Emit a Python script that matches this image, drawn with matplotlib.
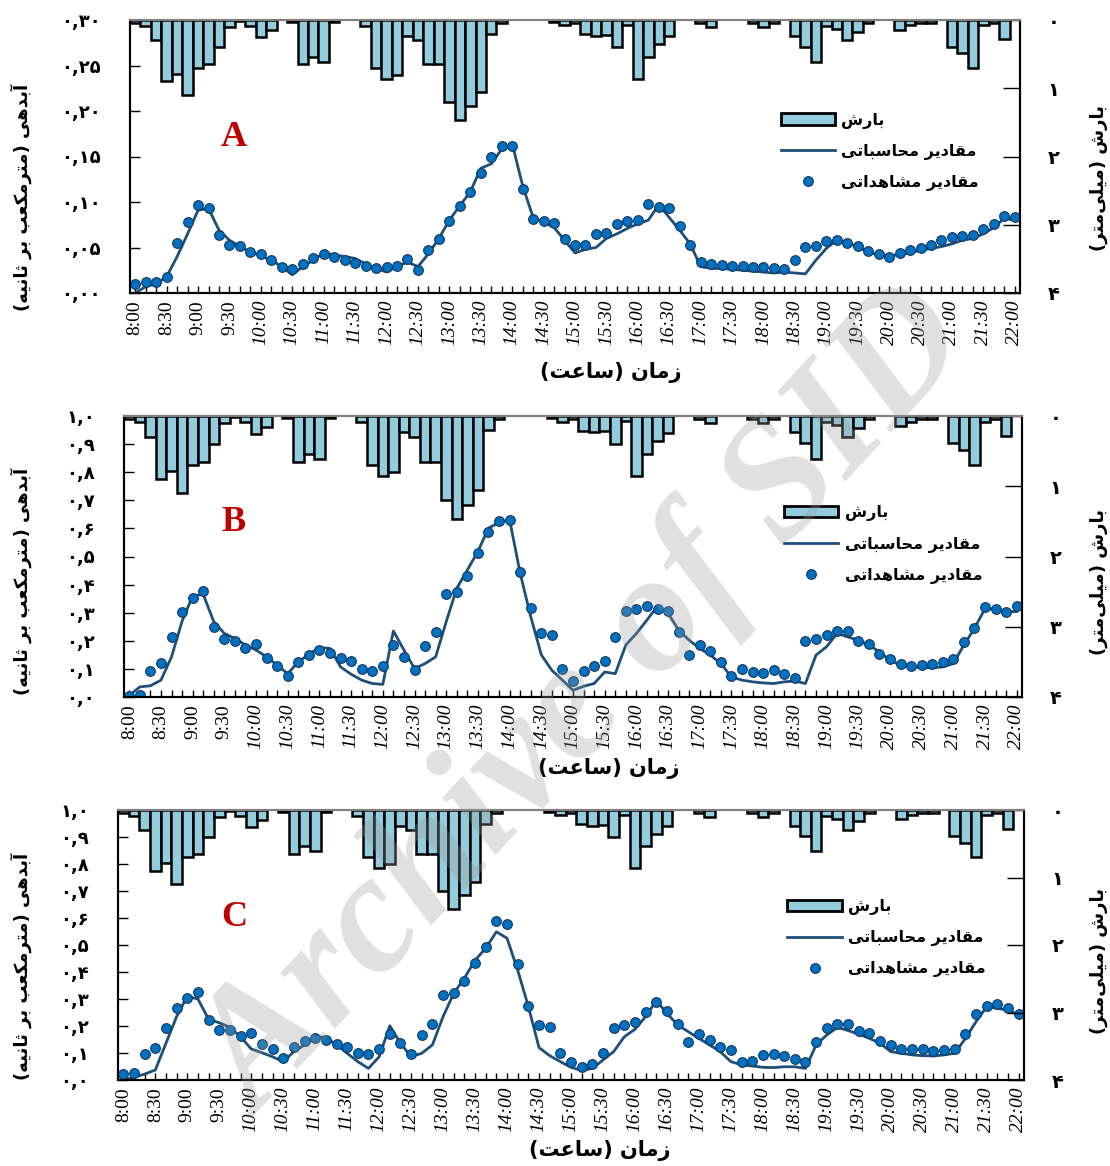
import numpy as np
import matplotlib.pyplot as plt
from matplotlib.patches import Patch
from matplotlib.lines import Line2D

# ---- data: 10-minute steps from 8:00 to 22:00 ----
steps = np.arange(85)

time_labels = ['8:00', '8:30', '9:00', '9:30', '10:00', '10:30', '11:00', '11:30',
               '12:00', '12:30', '13:00', '13:30', '14:00', '14:30', '15:00', '15:30',
               '16:00', '16:30', '17:00', '17:30', '18:00', '18:30', '19:00', '19:30',
               '20:00', '20:30', '21:00', '21:30', '22:00']

# rainfall (mm), same storm for all three panels
rain = np.array([
    0.04, 0.09, 0.30, 0.90, 0.79, 1.10, 0.70, 0.65, 0.40, 0.10,
    0.02, 0.09, 0.25, 0.15, 0.00, 0.03, 0.65, 0.54, 0.61, 0.03,
    0.00, 0.00, 0.09, 0.70, 0.86, 0.80, 0.23, 0.30, 0.65, 0.65,
    1.20, 1.46, 1.26, 1.06, 0.20, 0.04, 0.00, 0.00, 0.00, 0.00,
    0.03, 0.08, 0.04, 0.21, 0.23, 0.22, 0.40, 0.07, 0.86, 0.54,
    0.35, 0.24, 0.00, 0.00, 0.04, 0.10, 0.00, 0.00, 0.00, 0.04,
    0.10, 0.04, 0.00, 0.23, 0.39, 0.61, 0.09, 0.13, 0.30, 0.17,
    0.04, 0.00, 0.00, 0.14, 0.08, 0.04, 0.04, 0.00, 0.39, 0.49,
    0.70, 0.08, 0.04, 0.28, 0.00])

# panel A discharge (m3/s)
obs_a = np.array([
    0.010, 0.012, 0.012, 0.018, 0.055, 0.078, 0.097, 0.093, 0.064, 0.053,
    0.052, 0.045, 0.043, 0.036, 0.029, 0.026, 0.032, 0.039, 0.043, 0.040,
    0.036, 0.033, 0.030, 0.027, 0.029, 0.030, 0.037, 0.025, 0.047, 0.059,
    0.079, 0.096, 0.111, 0.132, 0.150, 0.161, 0.162, 0.114, 0.081, 0.079,
    0.077, 0.059, 0.053, 0.053, 0.065, 0.066, 0.076, 0.079, 0.080, 0.098,
    0.095, 0.093, 0.074, 0.053, 0.034, 0.032, 0.031, 0.030, 0.030, 0.029,
    0.029, 0.027, 0.026, 0.036, 0.051, 0.052, 0.057, 0.058, 0.055, 0.052,
    0.046, 0.043, 0.040, 0.044, 0.047, 0.050, 0.053, 0.058, 0.061, 0.063,
    0.064, 0.070, 0.076, 0.085, 0.083])
calc_a = np.array([
    0.000, 0.007, 0.010, 0.018, 0.040, 0.065, 0.091, 0.093, 0.069, 0.058,
    0.051, 0.045, 0.041, 0.036, 0.029, 0.020, 0.029, 0.036, 0.044, 0.042,
    0.040, 0.038, 0.032, 0.027, 0.023, 0.029, 0.034, 0.029, 0.043, 0.060,
    0.080, 0.096, 0.111, 0.137, 0.142, 0.158, 0.164, 0.118, 0.083, 0.078,
    0.072, 0.058, 0.044, 0.048, 0.050, 0.060, 0.065, 0.071, 0.076, 0.080,
    0.097, 0.083, 0.069, 0.054, 0.029, 0.027, 0.027, 0.026, 0.025, 0.024,
    0.023, 0.022, 0.023, 0.022, 0.021, 0.036, 0.049, 0.058, 0.055, 0.051,
    0.045, 0.042, 0.041, 0.042, 0.044, 0.047, 0.049, 0.051, 0.054, 0.058,
    0.060, 0.065, 0.072, 0.082, 0.080])

# panel B
obs_b = np.array([
    0.002, 0.007, 0.094, 0.120, 0.213, 0.302, 0.351, 0.379, 0.249, 0.206,
    0.201, 0.174, 0.187, 0.140, 0.112, 0.076, 0.124, 0.150, 0.167, 0.155,
    0.140, 0.129, 0.099, 0.094, 0.112, 0.185, 0.144, 0.096, 0.182, 0.233,
    0.365, 0.373, 0.432, 0.513, 0.587, 0.626, 0.631, 0.444, 0.315, 0.226,
    0.219, 0.098, 0.057, 0.092, 0.111, 0.127, 0.214, 0.307, 0.312, 0.325,
    0.314, 0.306, 0.232, 0.151, 0.185, 0.164, 0.126, 0.076, 0.098, 0.089,
    0.087, 0.095, 0.083, 0.068, 0.200, 0.206, 0.220, 0.235, 0.235, 0.200,
    0.188, 0.152, 0.137, 0.117, 0.111, 0.115, 0.117, 0.125, 0.137, 0.194,
    0.244, 0.319, 0.313, 0.302, 0.324])
calc_b = np.array([
    0.005, 0.036, 0.040, 0.060, 0.143, 0.270, 0.360, 0.365, 0.268, 0.226,
    0.208, 0.185, 0.167, 0.143, 0.113, 0.083, 0.125, 0.152, 0.176, 0.173,
    0.107, 0.081, 0.060, 0.048, 0.045, 0.235, 0.167, 0.101, 0.119, 0.143,
    0.268, 0.387, 0.452, 0.518, 0.601, 0.621, 0.631, 0.440, 0.286, 0.150,
    0.095, 0.060, 0.024, 0.038, 0.048, 0.089, 0.083, 0.185, 0.226, 0.274,
    0.324, 0.298, 0.238, 0.202, 0.173, 0.149, 0.119, 0.071, 0.060, 0.054,
    0.050, 0.048, 0.054, 0.057, 0.048, 0.149, 0.179, 0.226, 0.214, 0.202,
    0.185, 0.161, 0.131, 0.113, 0.107, 0.105, 0.104, 0.107, 0.119, 0.185,
    0.244, 0.315, 0.312, 0.304, 0.304])

# panel C
obs_c = np.array([
    0.021, 0.026, 0.098, 0.117, 0.193, 0.265, 0.302, 0.325, 0.221, 0.186,
    0.184, 0.163, 0.173, 0.133, 0.114, 0.083, 0.122, 0.143, 0.156, 0.147,
    0.133, 0.123, 0.100, 0.098, 0.114, 0.170, 0.137, 0.098, 0.168, 0.207,
    0.314, 0.321, 0.368, 0.432, 0.491, 0.590, 0.578, 0.430, 0.273, 0.202,
    0.198, 0.099, 0.068, 0.049, 0.058, 0.099, 0.194, 0.204, 0.216, 0.253,
    0.290, 0.257, 0.207, 0.142, 0.169, 0.148, 0.123, 0.111, 0.068, 0.072,
    0.091, 0.095, 0.089, 0.077, 0.068, 0.141, 0.194, 0.209, 0.207, 0.183,
    0.173, 0.146, 0.131, 0.116, 0.114, 0.115, 0.109, 0.111, 0.115, 0.170,
    0.244, 0.275, 0.283, 0.265, 0.244])
calc_c = np.array([
    0.000, 0.010, 0.022, 0.037, 0.136, 0.235, 0.310, 0.300, 0.225, 0.212,
    0.195, 0.160, 0.115, 0.101, 0.086, 0.068, 0.105, 0.130, 0.160, 0.158,
    0.130, 0.099, 0.068, 0.043, 0.086, 0.201, 0.136, 0.086, 0.099, 0.130,
    0.235, 0.321, 0.377, 0.444, 0.488, 0.549, 0.525, 0.407, 0.272, 0.120,
    0.090, 0.068, 0.047, 0.035, 0.043, 0.074, 0.105, 0.160, 0.188, 0.235,
    0.294, 0.247, 0.204, 0.179, 0.154, 0.130, 0.105, 0.068, 0.056, 0.052,
    0.047, 0.046, 0.049, 0.049, 0.043, 0.130, 0.167, 0.195, 0.183, 0.170,
    0.154, 0.136, 0.105, 0.099, 0.093, 0.090, 0.089, 0.093, 0.099, 0.154,
    0.216, 0.272, 0.265, 0.259, 0.241])

yticks_a = [0, 0.05, 0.10, 0.15, 0.20, 0.25, 0.30]
ylabels_a = ['۰,۰۰', '۰,۰۵', '۰,۱۰', '۰,۱۵', '۰,۲۰', '۰,۲۵', '۰,۳۰']
yticks_bc = [0, 0.1, 0.2, 0.3, 0.4, 0.5, 0.6, 0.7, 0.8, 0.9, 1.0]
ylabels_bc = ['۰,۰', '۰,۱', '۰,۲', '۰,۳', '۰,۴', '۰,۵', '۰,۶', '۰,۷', '۰,۸', '۰,۹', '۱,۰']
rain_ticks = [0, 1, 2, 3, 4]
rain_labels = ['۰', '۱', '۲', '۳', '۴']

label_q = 'آبدهی (مترمکعب بر ثانیه)'
label_p = 'بارش (میلی\u200cمتر)'
label_t = 'زمان (ساعت)'
leg_rain = 'بارش'
leg_calc = 'مقادیر محاسباتی'
leg_obs = 'مقادیر مشاهداتی'

# ---- minimal Persian shaping (matplotlib has no bidi / joining) ----
FORMS = {
    'ا': ('\uFE8D', '\uFE8E', None, None), 'آ': ('\uFE81', '\uFE82', None, None),
    'د': ('\uFEA9', '\uFEAA', None, None), 'ر': ('\uFEAD', '\uFEAE', None, None),
    'ز': ('\uFEAF', '\uFEB0', None, None),
    'ب': ('\uFE8F', '\uFE90', '\uFE91', '\uFE92'), 'ت': ('\uFE95', '\uFE96', '\uFE97', '\uFE98'),
    'ث': ('\uFE99', '\uFE9A', '\uFE9B', '\uFE9C'), 'ح': ('\uFEA1', '\uFEA2', '\uFEA3', '\uFEA4'),
    'س': ('\uFEB1', '\uFEB2', '\uFEB3', '\uFEB4'), 'ش': ('\uFEB5', '\uFEB6', '\uFEB7', '\uFEB8'),
    'ع': ('\uFEC9', '\uFECA', '\uFECB', '\uFECC'), 'ق': ('\uFED5', '\uFED6', '\uFED7', '\uFED8'),
    'ک': ('\uFB8E', '\uFB8F', '\uFB90', '\uFB91'), 'ل': ('\uFEDD', '\uFEDE', '\uFEDF', '\uFEE0'),
    'م': ('\uFEE1', '\uFEE2', '\uFEE3', '\uFEE4'), 'ن': ('\uFEE5', '\uFEE6', '\uFEE7', '\uFEE8'),
    'ه': ('\uFEE9', '\uFEEA', '\uFEEB', '\uFEEC'), 'ی': ('\uFBFC', '\uFBFD', '\uFBFE', '\uFBFF'),
}


def fa(text):
    out = []
    for i, c in enumerate(text):
        if c == '\u200c':
            continue
        if c not in FORMS:
            out.append(c)
            continue
        prev = text[i - 1] if i > 0 else ''
        nxt = text[i + 1] if i + 1 < len(text) else ''
        join_prev = prev in FORMS and FORMS[prev][2] is not None
        join_next = nxt in FORMS and FORMS[c][2] is not None
        iso, fin, ini, med = FORMS[c]
        if join_prev and join_next:
            out.append(med)
        elif join_prev:
            out.append(fin)
        elif join_next:
            out.append(ini)
        else:
            out.append(iso)
    return ''.join(reversed(out)).translate(str.maketrans('()', ')('))


FA = ['DejaVu Sans']
bar_color = '#93CDDD'
dot_color = '#0070C0'
line_color = '#1F4E79'

W, H = 1110, 1166
fig = plt.figure(figsize=(W / 100, H / 100), dpi=100)


def rect(l, t, r, b):
    return [l / W, 1 - b / H, (r - l) / W, (b - t) / H]


# box in pixels (left, top, right, bottom); label x positions in pixels
panels = [
    dict(box=(130, 20, 1020, 293), obs=obs_a, calc=calc_a, ymax=0.30,
         yt=yticks_a, yl=ylabels_a, letter='A', lxy=(0.116, 0.57),
         leg=(0.722, 0.69), qy=0.35, py=0.42, txy=(0.54, -0.29)),
    dict(box=(124, 416, 1022, 697), obs=obs_b, calc=calc_b, ymax=1.0,
         yt=yticks_bc, yl=ylabels_bc, letter='B', lxy=(0.122, 0.62),
         leg=(0.726, 0.71), qy=0.41, py=0.41, txy=(0.54, -0.255)),
    dict(box=(118, 810, 1024, 1080), obs=obs_c, calc=calc_c, ymax=1.0,
         yt=yticks_bc, yl=ylabels_bc, letter='C', lxy=(0.128, 0.60),
         leg=(0.73, 0.70), qy=0.42, py=0.44, txy=(0.532, -0.26)),
]

for p in panels:
    l, t, r, b = p['box']
    ax = fig.add_axes(rect(l, t, r, b))
    ax.plot(steps, p['calc'], color=line_color, lw=2, zorder=2, solid_joinstyle='round')
    ax.plot(steps, p['obs'], 'o', ms=7, mfc=dot_color, mec='#17375E', mew=0.8, zorder=3)
    ax.set_xlim(-0.5, 84.5)
    ax.set_ylim(0, p['ymax'])

    # x axis: labels every 30 min, ticks every 10 min
    ax.set_xticks(steps[::3])
    ax.set_xticklabels(time_labels, rotation=90, fontsize=14, family='Liberation Serif')
    for lab in ax.get_xticklabels():
        if len(lab.get_text()) > 4:
            lab.set_fontstyle('italic')
    ax.set_xticks(steps, minor=True)
    ax.tick_params(axis='x', which='both', direction='in', length=5, width=1, pad=5, top=False)

    ax.set_yticks(p['yt'])
    ax.set_yticklabels(p['yl'], fontsize=13, family=FA, fontweight='bold')
    ax.tick_params(axis='y', direction='in', length=7, width=1, pad=21)

    ax.set_ylabel(fa(label_q), family=FA, fontsize=13, fontweight='bold')
    ax.yaxis.set_label_coords((32 - l) / (r - l), p['qy'])
    ax.set_xlabel(fa(label_t), family=FA, fontsize=15, fontweight='bold', va='center')
    ax.xaxis.set_label_coords(*p['txy'])

    ax.text(p['lxy'][0], p['lxy'][1], p['letter'], transform=ax.transAxes, ha='center',
            va='center', fontsize=26, fontweight='bold', color='#C00000', family='Liberation Serif')

    # rainfall hanging from the top on an inverted right axis
    ax2 = ax.twinx()
    wet = rain > 0
    ax2.bar(steps[wet], rain[wet], width=1, color=bar_color, edgecolor='black', lw=1.8, zorder=2)
    ax2.set_ylim(4, 0)
    ax2.set_yticks(rain_ticks)
    ax2.set_yticklabels(rain_labels, fontsize=14, family=FA, fontweight='bold')
    ax2.tick_params(axis='y', direction='in', length=12, width=1, pad=20)
    ax2.set_ylabel(fa(label_p), family=FA, fontsize=13, fontweight='bold', rotation=90)
    ax2.yaxis.set_label_coords((1090 - l) / (r - l), p['py'])

    for a in (ax, ax2):
        for s in ('left', 'right', 'bottom'):
            a.spines[s].set_linewidth(1.5)
        a.spines['top'].set_color('#808080')
        a.spines['top'].set_linewidth(1.5)

    handles = [Patch(facecolor=bar_color, edgecolor='black', lw=2),
               Line2D([], [], color=line_color, lw=2),
               Line2D([], [], ls='none', marker='o', ms=7, mfc=dot_color, mec='#17375E', mew=0.8)]
    ax2.legend(handles, [fa(leg_rain), fa(leg_calc), fa(leg_obs)], loc='upper left',
               bbox_to_anchor=p['leg'], frameon=False, borderpad=0, handlelength=3.4,
               handletextpad=0.4, labelspacing=0.95,
               prop=dict(family=FA, size=11.5, weight='bold'))

# watermark of the source archive
fig.text(0.53, 0.395, 'Archive of SID', rotation=47, rotation_mode='anchor', ha='center',
         va='center', fontsize=122, family='Liberation Serif', style='italic',
         fontweight='bold', color='#9a9a9a', alpha=0.3, zorder=10)

fig.savefig('out.png', dpi=100)
